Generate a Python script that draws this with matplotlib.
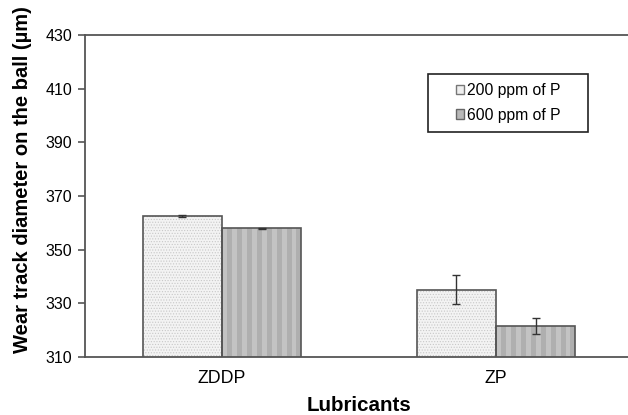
import matplotlib.pyplot as plt
import numpy as np
from matplotlib.patches import Rectangle

plt.rcParams['font.family'] = ['Liberation Sans', 'DejaVu Sans']
plt.rcParams['hatch.linewidth'] = 0.5

lubricants = ['ZDDP', 'ZP']
series = ['200 ppm of P', '600 ppm of P']
wear_200 = [362.5, 335.0]
wear_600 = [358.0, 321.5]
err_200 = [0.5, 5.4]
err_600 = [0.2, 3.0]

fig = plt.figure(figsize=(6.28, 4.15), dpi=100)
ax = fig.add_axes([85 / 628, 1 - 357 / 415, 548 / 628, 322 / 415])

x = np.arange(len(lubricants))
w = 0.29
edge = '#555555'

# fine dotted fill for 200 ppm
ax.bar(x - w / 2, wear_200, w, color='#f3f3f3', edgecolor='#c8c8c8', linewidth=0,
       hatch='......', zorder=2)
ax.bar(x - w / 2, wear_200, w, color='none', edgecolor=edge, linewidth=1.2, zorder=3)

# vertical stripes for 600 ppm
ax.bar(x + w / 2, wear_600, w, color='#c3c3c3', linewidth=0, zorder=2)
for xi, h in zip(x + w / 2, wear_600):
    for s in np.linspace(xi - w / 2, xi + w / 2, 17)[1:-1:2]:
        ax.fill_between([s, s + w / 16], 310, h, color='#afafaf', lw=0, zorder=2.5)
ax.bar(x + w / 2, wear_600, w, color='none', edgecolor=edge, linewidth=1.2, zorder=3)

ax.errorbar(x - w / 2, wear_200, yerr=err_200, fmt='none', ecolor='#333333',
            elinewidth=1, capsize=3, zorder=4)
ax.errorbar(x + w / 2, wear_600, yerr=err_600, fmt='none', ecolor='#333333',
            elinewidth=1, capsize=3, zorder=4)

ax.set_xlim(-0.5, 1.5)
ax.set_ylim(310, 430)
ax.set_yticks(np.arange(310, 431, 20))
ax.set_xticks(x)
ax.set_xticklabels(lubricants, fontsize=12.8)
ax.tick_params(axis='x', length=0, pad=9)
ax.tick_params(axis='y', direction='out', length=5, width=1.2, pad=4,
               labelsize=11.5, color='#555555')
for sp in ax.spines.values():
    sp.set_color('#555555')
    sp.set_linewidth(1.3)

ax.set_xlabel('Lubricants', fontsize=14.8, fontweight='bold', labelpad=7)
ax.set_ylabel('Wear track diameter on the ball (\u00b5m)', fontsize=14.5,
              fontweight='bold', labelpad=10)
ax.yaxis.label.set_y(0.55)

# legend with its own frame
box = Rectangle((0.626, 0.699), 0.292, 0.180, transform=ax.transAxes,
                facecolor='white', edgecolor='#222222', linewidth=1.2, zorder=5)
ax.add_patch(box)
h1 = Rectangle((0, 0), 1, 1, facecolor='#efefef', edgecolor='#777777', lw=1)
h2 = Rectangle((0, 0), 1, 1, facecolor='#b8b8b8', edgecolor='#666666', lw=1)
leg = ax.legend([h1, h2], series, loc='center', bbox_to_anchor=(0.772, 0.789),
                frameon=False, fontsize=11.3, handlelength=0.55, handleheight=0.55,
                handletextpad=0.15, labelspacing=0.6, borderpad=0)
leg.set_zorder(6)

fig.savefig('out.png', dpi=100)
